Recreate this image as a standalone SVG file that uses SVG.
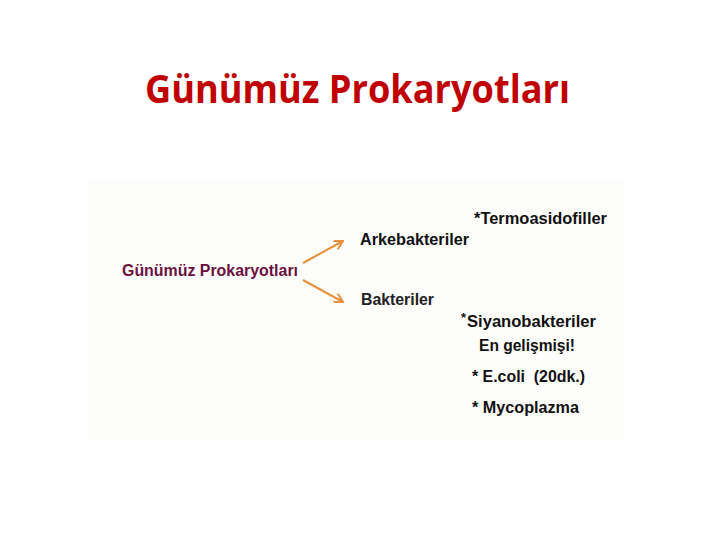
<svg xmlns="http://www.w3.org/2000/svg" width="720" height="540" viewBox="0 0 720 540">
<defs>
<style>
.t{font-family:"Liberation Sans","Open Sans",sans-serif;font-weight:bold;font-size:16px;fill:#111}
.n{font-family:"Liberation Sans","Open Sans",sans-serif;font-weight:bold;font-size:16px;fill:#222}
.c{stroke:#E8903A;stroke-width:2;fill:none}
</style>
<marker id="ah" viewBox="0 0 10 10" refX="9" refY="5" markerWidth="10" markerHeight="10" markerUnits="userSpaceOnUse" orient="auto">
<path d="M0,0 L9,5 L0,10" fill="none" stroke="#E8903A" stroke-width="2"/>
</marker>
</defs>
<rect width="720" height="540" fill="#fff"/>
<rect x="88" y="178" width="537" height="262" fill="#FDFDFB"/>
<text x="145" y="103" font-family="Open Sans, Liberation Sans, sans-serif" font-weight="bold" font-size="40" fill="#C00000" textLength="425" lengthAdjust="spacingAndGlyphs">Günümüz Prokaryotları</text>
<g id="root"><text class="t" x="122" y="276" style="fill:#6B1040" textLength="176" lengthAdjust="spacingAndGlyphs">Günümüz Prokaryotları</text></g>
<g id="connectors">
<line class="c" x1="303" y1="263" x2="343" y2="241" marker-end="url(#ah)"/>
<line class="c" x1="303" y1="280" x2="343" y2="302" marker-end="url(#ah)"/>
</g>
<g id="arke"><text class="t" x="360" y="245" textLength="109" lengthAdjust="spacingAndGlyphs">Arkebakteriler</text></g>
<g id="termo"><text class="t" x="474" y="224" textLength="133" lengthAdjust="spacingAndGlyphs">*Termoasidofiller</text></g>
<g id="bakteri"><text class="n" x="361" y="305" textLength="73" lengthAdjust="spacingAndGlyphs">Bakteriler</text></g>
<g id="siyano"><text class="t" x="461" y="322" style="font-size:13px">*</text><text class="t" x="467" y="327" textLength="129" lengthAdjust="spacingAndGlyphs">Siyanobakteriler</text></g>
<g id="engel"><text class="t" x="479" y="351" textLength="96" lengthAdjust="spacingAndGlyphs">En gelişmişi!</text></g>
<g id="ecoli"><text class="t" x="472" y="382" xml:space="preserve" textLength="113" lengthAdjust="spacingAndGlyphs">* E.coli  (20dk.)</text></g>
<g id="myco"><text class="t" x="472" y="413" textLength="107" lengthAdjust="spacingAndGlyphs">* Mycoplazma</text></g>
</svg>
